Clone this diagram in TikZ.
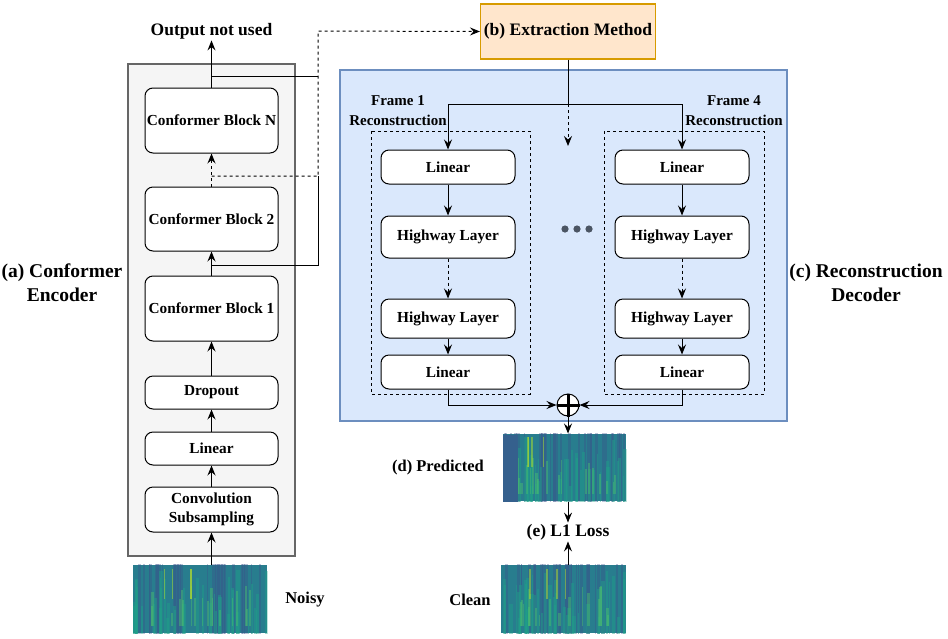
\documentclass[tikz,border=0pt]{standalone}
\usepackage{fontspec}
\setmainfont{Liberation Serif}
\usetikzlibrary{arrows.meta,calc}

\definecolor{encfill}{HTML}{F5F5F5}
\definecolor{encline}{HTML}{666666}
\definecolor{extfill}{HTML}{FFE6CC}
\definecolor{extline}{HTML}{D79B00}
\definecolor{decfill}{HTML}{DAE8FC}
\definecolor{decline}{HTML}{6C8EBF}
\definecolor{dotgray}{HTML}{4B5563}
\definecolor{specbase}{HTML}{287D8E}
\definecolor{specblue}{HTML}{3B528B}
\definecolor{specteal}{HTML}{1FA088}
\definecolor{specgreen}{HTML}{4AC16D}
\definecolor{specyellow}{HTML}{B4DE2C}
\definecolor{specdark}{HTML}{35608D}

\tikzset{
  blk/.style={draw, rounded corners=8pt, fill=white, line width=1pt, align=center,
    inner sep=0pt, minimum width=133pt, font=\fontsize{15.3}{19}\selectfont\bfseries},
  lbl/.style={align=center, inner sep=1pt, font=\fontsize{16.5}{20}\selectfont\bfseries},
  biglbl/.style={align=center, inner sep=1pt, font=\fontsize{19.5}{24}\selectfont\bfseries},
  spec/.style={fill=specbase, inner sep=0pt},
}

\newcommand{\specstripes}[1]{%
  \begin{scope}
    \clip (#1.south west) rectangle (#1.north east);
    \path (#1.south west) coordinate (sw) (#1.south east) coordinate (se);
    \foreach \k in {1,...,30}{
      \pgfmathsetmacro{\px}{rnd}
      \pgfmathsetmacro{\pw}{1+3*rnd}
      \fill[specblue, opacity=0.35] ($(sw)!\px!(se)$) rectangle ++(\pw,-80);
    }
    \foreach \k in {1,...,40}{
      \pgfmathsetmacro{\px}{rnd}
      \pgfmathsetmacro{\pw}{1+3*rnd}
      \pgfmathsetmacro{\ph}{15+50*rnd}
      \fill[specteal, opacity=0.45] ($(sw)!\px!(se)$) rectangle ++(\pw,-\ph);
    }
    \foreach \k in {1,...,18}{
      \pgfmathsetmacro{\px}{0.1+0.8*rnd}
      \pgfmathsetmacro{\pw}{1+2*rnd}
      \pgfmathsetmacro{\ph}{10+30*rnd}
      \fill[specgreen, opacity=0.45] ($(sw)!\px!(se)$) ++(0,-8) rectangle ++(\pw,-\ph);
    }
    \foreach \k in {1,...,4}{
      \pgfmathsetmacro{\px}{0.2+0.4*rnd}
      \fill[specyellow, opacity=0.5] ($(sw)!\px!(se)$) ++(0,-35) rectangle ++(1.5,-30);
    }
  \end{scope}}

\begin{document}
\begin{tikzpicture}[x=1pt,y=-1pt,line width=1pt,
  >={Stealth[length=10pt,width=8pt,inset=3.5pt]}]
\useasboundingbox (0,0) rectangle (948,638);
\pgfmathsetseed{11}

% containers
\draw[fill=encfill, draw=encline, line width=1.4pt] (128,64) rectangle (295,556);
\draw[fill=decfill, draw=decline, line width=1.2pt] (340,70) rectangle (787,421);
\draw[dashed] (371,131) rectangle (530,394);
\draw[dashed] (604,131) rectangle (764,394);

% encoder
\node[blk, minimum height=65pt] (cbN) at (211.5,120.5) {Conformer Block N};
\node[blk, minimum height=64pt] (cb2) at (211.5,219) {Conformer Block 2};
\node[blk, minimum height=65pt] (cb1) at (211.5,308.5) {Conformer Block 1};
\node[blk, minimum height=33pt] (drop) at (211.5,392.5) {Dropout};
\node[blk, minimum height=33pt] (lin) at (211.5,448.5) {Linear};
\node[blk, minimum height=45pt] (conv) at (211.5,509.5) {Convolution\\Subsampling};
\node[font=\fontsize{17.5}{20}\selectfont\bfseries, inner sep=1pt] (out) at (211.5,31) {Output not used};
\node[biglbl] (enc) at (62,283) {(a) Conformer\\Encoder};

\node[spec, minimum width=134pt, minimum height=68pt] (noisy) at (200,599) {};
\specstripes{noisy}
\node[lbl] (noisylbl) at (305,600) {Noisy};

\draw[->] (conv |- noisy.north) -- (conv);
\draw[->] (conv) -- (lin);
\draw[->] (lin) -- (drop);
\draw[->] (drop) -- (cb1);
\draw[->] (cb1) -- (cb2);
\draw[dashed,->] (cb2) -- (cbN);
\draw[->] (cbN) -- (out);

% extraction
\node[draw=extline, fill=extfill, line width=1.2pt, minimum width=172pt, minimum height=55pt,
  font=\fontsize{17.5}{20}\selectfont\bfseries] (ext) at (568,31.5) {(b) Extraction Method};
\coordinate (bend) at (318,31);
\coordinate (o1) at (211.5,265);
\coordinate (o2) at (211.5,176);
\coordinate (oN) at (211.5,76);
\draw (o1) -| (bend |- o2);
\draw (oN) -- (bend |- oN);
\draw[dashed,->] (o2) -| (bend) -- (ext.west);

% decoder
\node[lbl, font=\fontsize{15}{20}\selectfont\bfseries] (f1) at (398,111) {Frame 1\\Reconstruction};
\node[lbl, font=\fontsize{15}{20}\selectfont\bfseries] (f4) at (734,111) {Frame 4\\Reconstruction};
\node[biglbl] (dec) at (866,283) {(c) Reconstruction\\Decoder};

\foreach \c/\x in {l/448,r/682}
{
  \node[blk, minimum width=134pt, minimum height=34pt] (\c1) at (\x,167) {Linear};
  \node[blk, minimum width=134pt, minimum height=42pt] (\c2) at (\x,237) {Highway Layer};
  \node[blk, minimum width=134pt, minimum height=39pt] (\c3) at (\x,318.5) {Highway Layer};
  \node[blk, minimum width=134pt, minimum height=34pt] (\c4) at (\x,372) {Linear};
  \draw[->] (\c1) -- (\c2);
  \draw[dashed,->] (\c2) -- (\c3);
  \draw[->] (\c3) -- (\c4);
}
\foreach \i in {0,1,2}
  \fill[dotgray] (565+12*\i,229) circle [radius=3.6];

\coordinate (split) at (568,104);
\coordinate (gap) at (568,146);
\draw (ext) -- (split);
\draw[->] (split) -| (l1);
\draw[->] (split) -| (r1);
\draw[dashed,->] (split) -- (gap);

% sum
\node[draw, fill=white, circle, minimum size=22pt, inner sep=0pt] (plus) at (568,405) {};
\draw[line width=3pt] (plus.north) -- (plus.south) (plus.west) -- (plus.east);
\draw[->] (l4) |- (plus);
\draw[->] (r4) |- (plus);

% output and loss
\node[spec, minimum width=123pt, minimum height=67pt] (pred) at (564.5,467.5) {};
\specstripes{pred}
\fill[specdark] (pred.south west) rectangle ++(15,-67);
\node[lbl] (predlbl) at (438,468) {(d) Predicted};
\node[font=\fontsize{17.5}{20}\selectfont\bfseries, inner sep=1pt] (loss) at (568,532) {(e) L1 Loss};
\node[spec, minimum width=125pt, minimum height=68pt] (clean) at (563.5,599) {};
\specstripes{clean}
\node[lbl] (cleanlbl) at (470,600) {Clean};

\draw[->] (plus) -- (plus |- pred.north);
\draw[->] (loss.north |- pred.south) -- (loss);
\draw[->] (loss.south |- clean.north) -- (loss);
\end{tikzpicture}
\end{document}
